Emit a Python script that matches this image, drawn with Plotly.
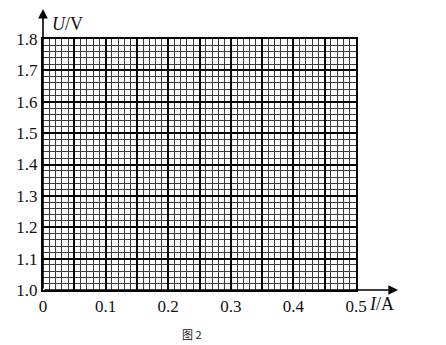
import plotly.graph_objects as go

# axis values / labels
x_major_vals = [0, 0.05, 0.1, 0.15, 0.2, 0.25, 0.3, 0.35, 0.4, 0.45, 0.5]
x_major_text = ["0", "", "0.1", "", "0.2", "", "0.3", "", "0.4", "", "0.5"]
y_major_vals = [1.0, 1.1, 1.2, 1.3, 1.4, 1.5, 1.6, 1.7, 1.8]
y_major_text = ["1.0", "1.1", "1.2", "1.3", "1.4", "1.5", "1.6", "1.7", "1.8"]
x_range = [0, 0.5]
y_range = [1.0, 1.8]
x_minor_step = 0.01
y_minor_step = 0.02
x_label = "<i>I</i>/A"
y_label = "<i>U</i>/V"
caption = "图 2"

W, H = 446, 345
L, R, T, B = 43, 90, 39, 55
PW, PH = W - L - R, H - T - B

fig = go.Figure()
fig.add_trace(go.Scatter(x=[], y=[], mode="markers", showlegend=False))

serif = "Liberation Serif, Times New Roman, serif"
txt = "#111111"

fig.update_layout(
    width=W, height=H,
    margin=dict(l=L, r=R, t=T, b=B, pad=0),
    paper_bgcolor="white", plot_bgcolor="white",
    showlegend=False,
    xaxis=dict(
        range=x_range, tickmode="array", tickvals=x_major_vals, ticktext=x_major_text,
        showgrid=True, gridcolor="#000000", gridwidth=2,
        minor=dict(dtick=x_minor_step, tick0=0, showgrid=True, gridcolor="#3c3c3c", gridwidth=1),
        showline=True, linecolor="black", linewidth=2, mirror=True,
        ticks="", zeroline=False,
        tickfont=dict(family=serif, size=17, color=txt),
        fixedrange=True,
    ),
    yaxis=dict(
        range=y_range, tickmode="array", tickvals=y_major_vals, ticktext=y_major_text,
        showgrid=True, gridcolor="#000000", gridwidth=2,
        minor=dict(dtick=y_minor_step, tick0=1.0, showgrid=True, gridcolor="#3c3c3c", gridwidth=1),
        showline=True, linecolor="black", linewidth=2, mirror=True,
        ticks="", zeroline=False,
        tickfont=dict(family=serif, size=17, color=txt),
        fixedrange=True,
    ),
)

# arrows extending the axes
px_x = (x_range[1] - x_range[0]) / PW
px_y = (y_range[1] - y_range[0]) / PH
fig.add_annotation(x=x_range[0], y=y_range[1] + 30 * px_y, ax=x_range[0], ay=y_range[0],
                   xref="x", yref="y", axref="x", ayref="y", showarrow=True,
                   arrowhead=2, arrowsize=1.2, arrowwidth=1.6, arrowcolor="black", text="")
fig.add_annotation(x=x_range[1] + 42 * px_x, y=y_range[0], ax=x_range[0], ay=y_range[0],
                   xref="x", yref="y", axref="x", ayref="y", showarrow=True,
                   arrowhead=2, arrowsize=1.2, arrowwidth=1.6, arrowcolor="black", text="")

# axis titles
fig.add_annotation(x=7 / PW, y=(H - B - 24) / PH, xref="paper", yref="paper",
                   text=y_label, showarrow=False, xanchor="left", yanchor="middle",
                   font=dict(family=serif, size=18, color=txt))
fig.add_annotation(x=(367 - L) / PW, y=-(304 - (H - B)) / PH, xref="paper", yref="paper",
                   text=x_label, showarrow=False, xanchor="left", yanchor="middle",
                   font=dict(family=serif, size=18, color=txt))
fig.add_annotation(x=(192 - L) / PW, y=-(334 - (H - B)) / PH, xref="paper", yref="paper",
                   text=caption, showarrow=False, xanchor="center", yanchor="middle",
                   font=dict(family="Noto Sans CJK SC", size=11, color=txt))

fig.write_html("out.html")
